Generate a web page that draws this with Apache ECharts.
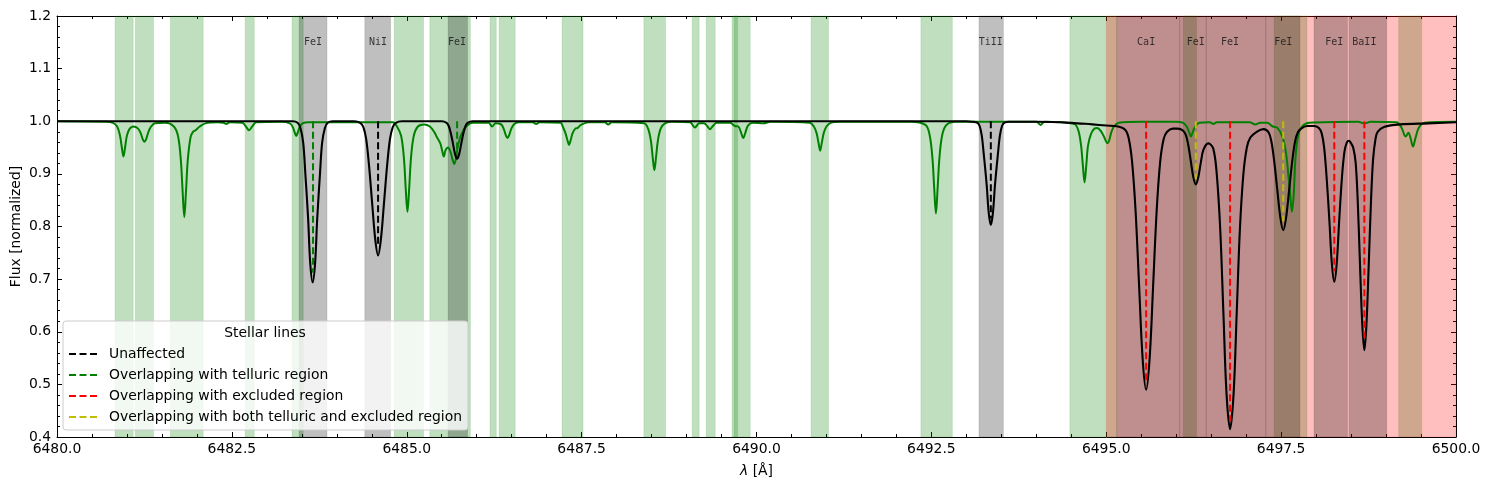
<!DOCTYPE html>
<html>
<head>
<meta charset="utf-8">
<script src="https://cdn.jsdelivr.net/npm/echarts@6.0.0/dist/echarts.min.js"></script>
<style>
html,body{margin:0;padding:0;background:#fff;}
#chart{width:1489px;height:490px;}
</style>
</head>
<body>
<div id="chart"></div>
<script>
// ---------------- DATA ----------------
// Stellar spectrum [wavelength Å, normalized flux]
const stellarSpectrum = [
[6480.0,1.0],[6483.3,1.0],
[6483.37,1.0],[6483.44,0.997],[6483.48,0.987],[6483.52,0.959],[6483.55,0.901],[6483.59,0.815],[6483.62,0.731],[6483.655,0.694],[6483.69,0.731],[6483.72,0.815],[6483.76,0.901],[6483.79,0.959],[6483.83,0.987],[6483.87,0.997],[6483.94,1.0],
[6484.25,1.0],[6484.335,0.997],[6484.38,0.989],[6484.42,0.966],[6484.46,0.917],[6484.505,0.845],[6484.55,0.775],[6484.59,0.745],[6484.63,0.775],[6484.675,0.845],[6484.72,0.917],[6484.76,0.966],[6484.80,0.989],[6484.845,0.997],[6484.93,1.0],
[6485.50,1.0],[6485.57,0.997],[6485.60,0.991],[6485.63,0.977],[6485.66,0.958],[6485.69,0.938],[6485.72,0.929],[6485.75,0.938],[6485.78,0.958],[6485.81,0.977],[6485.84,0.991],[6485.87,0.997],[6485.94,1.0],
[6493.0,1.0],[6493.09,0.999],[6493.16,0.997],[6493.19,0.991],[6493.22,0.973],[6493.25,0.936],[6493.29,0.880],[6493.32,0.826],[6493.35,0.803],[6493.38,0.826],[6493.41,0.880],[6493.45,0.936],[6493.48,0.973],[6493.51,0.991],[6493.54,0.997],[6493.61,0.999],
[6494.0,0.999],[6494.5,0.997],[6494.8,0.994],[6495.0,0.992],[6495.17,0.99],
[6495.27,0.984],[6495.32,0.968],[6495.37,0.922],[6495.42,0.828],[6495.47,0.687],[6495.52,0.549],[6495.57,0.49],[6495.62,0.549],[6495.67,0.687],[6495.72,0.828],[6495.77,0.922],[6495.82,0.966],[6495.87,0.980],[6495.95,0.986],[6496.02,0.986],
[6496.10,0.982],[6496.14,0.973],[6496.175,0.953],[6496.21,0.923],[6496.245,0.894],[6496.28,0.880],[6496.315,0.893],[6496.35,0.92],[6496.39,0.946],[6496.46,0.958],
[6496.53,0.948],[6496.58,0.899],[6496.63,0.793],[6496.675,0.635],[6496.72,0.481],[6496.77,0.415],[6496.82,0.481],[6496.865,0.635],[6496.91,0.793],[6496.96,0.899],[6497.01,0.950],[6497.06,0.969],[6497.15,0.98],[6497.25,0.985],
[6497.32,0.979],[6497.36,0.962],[6497.40,0.925],[6497.445,0.870],[6497.49,0.816],[6497.53,0.793],[6497.57,0.816],[6497.615,0.870],[6497.66,0.925],[6497.70,0.962],[6497.74,0.979],[6497.785,0.986],[6497.87,0.991],[6497.97,0.991],
[6498.04,0.987],[6498.08,0.977],[6498.115,0.950],[6498.15,0.894],[6498.19,0.811],[6498.225,0.730],[6498.26,0.695],[6498.295,0.730],[6498.33,0.811],[6498.37,0.894],[6498.405,0.942],[6498.44,0.960],[6498.47,0.963],
[6498.50,0.958],[6498.53,0.950],[6498.565,0.922],[6498.595,0.849],[6498.627,0.730],[6498.66,0.614],[6498.69,0.565],[6498.72,0.614],[6498.753,0.730],[6498.785,0.849],[6498.815,0.928],[6498.85,0.967],[6498.88,0.980],[6498.97,0.989],[6499.2,0.994],[6499.6,0.996],[6500.0,0.998]
];

// Telluric spectrum [wavelength Å, normalized flux]
const telluricSpectrum = [
[6480.0,1.0],[6480.7,0.999],[6480.80,0.997],[6480.86,0.990],[6480.90,0.973],[6480.925,0.952],[6480.95,0.933],[6480.975,0.952],[6481.0,0.973],[6481.04,0.986],[6481.09,0.990],[6481.16,0.986],[6481.20,0.976],[6481.225,0.966],[6481.25,0.961],[6481.275,0.966],[6481.30,0.977],[6481.34,0.989],[6481.40,0.996],[6481.55,0.997],
[6481.67,0.99],[6481.73,0.972],[6481.77,0.927],[6481.795,0.869],[6481.82,0.818],[6481.845,0.869],[6481.87,0.927],[6481.91,0.970],[6481.94,0.979],[6481.98,0.983],[6482.04,0.99],[6482.12,0.996],[6482.3,0.998],[6482.38,0.997],[6482.42,0.995],[6482.47,0.998],
[6482.65,0.997],[6482.70,0.99],[6482.745,0.983],[6482.79,0.99],[6482.85,0.998],[6483.2,0.999],[6483.33,0.996],[6483.37,0.989],[6483.395,0.98],[6483.42,0.972],[6483.445,0.98],[6483.47,0.989],[6483.51,0.996],[6483.6,0.998],[6484.8,0.998],
[6484.86,0.99],[6484.92,0.972],[6484.96,0.929],[6484.985,0.873],[6485.01,0.828],[6485.035,0.873],[6485.06,0.929],[6485.10,0.972],[6485.16,0.99],[6485.25,0.994],[6485.33,0.99],[6485.40,0.978],[6485.43,0.970],[6485.48,0.958],[6485.505,0.945],[6485.53,0.933],[6485.555,0.945],[6485.59,0.95],[6485.63,0.94],[6485.655,0.927],[6485.68,0.919],[6485.705,0.93],[6485.73,0.952],[6485.78,0.975],[6485.85,0.99],[6485.95,0.997],
[6486.17,0.997],[6486.22,0.99],[6486.27,0.996],[6486.35,0.994],[6486.39,0.984],[6486.415,0.974],[6486.44,0.968],[6486.465,0.974],[6486.49,0.984],[6486.53,0.994],[6486.6,0.998],[6486.8,0.998],[6486.85,0.995],[6486.9,0.998],
[6487.2,0.997],[6487.23,0.99],[6487.27,0.977],[6487.295,0.965],[6487.32,0.955],[6487.345,0.965],[6487.37,0.977],[6487.41,0.986],[6487.44,0.987],[6487.49,0.993],[6487.6,0.998],[6487.83,0.998],[6487.88,0.994],[6487.93,0.998],
[6488.39,0.996],[6488.45,0.986],[6488.49,0.963],[6488.515,0.933],[6488.54,0.907],[6488.565,0.933],[6488.59,0.963],[6488.63,0.986],[6488.69,0.996],[6488.8,0.999],
[6489.05,0.998],[6489.12,0.988],[6489.18,0.996],[6489.25,0.996],[6489.30,0.99],[6489.335,0.985],[6489.37,0.99],[6489.43,0.997],[6489.62,0.997],[6489.69,0.991],[6489.74,0.99],[6489.78,0.978],[6489.81,0.968],[6489.84,0.978],[6489.88,0.992],[6489.95,0.997],[6490.1,0.996],[6490.2,0.999],
[6490.76,0.997],[6490.82,0.99],[6490.86,0.977],[6490.885,0.96],[6490.91,0.944],[6490.935,0.96],[6490.96,0.977],[6491.0,0.99],[6491.06,0.997],[6491.2,0.999],
[6492.2,0.999],[6492.415,0.993],[6492.475,0.974],[6492.515,0.93],[6492.54,0.874],[6492.565,0.825],[6492.59,0.874],[6492.615,0.93],[6492.655,0.974],[6492.715,0.993],[6492.85,0.999],
[6494.0,0.999],[6494.06,0.993],[6494.12,0.999],[6494.54,0.995],[6494.60,0.983],[6494.64,0.954],[6494.665,0.917],[6494.69,0.884],[6494.715,0.917],[6494.74,0.954],[6494.78,0.975],[6494.83,0.986],[6494.87,0.987],[6494.93,0.98],[6494.97,0.97],[6495.0,0.961],[6495.02,0.958],[6495.045,0.965],[6495.07,0.978],[6495.11,0.99],[6495.18,0.997],[6495.5,0.999],
[6496.0,0.999],[6496.1,0.997],[6496.15,0.99],[6496.185,0.979],[6496.21,0.971],[6496.235,0.979],[6496.27,0.99],[6496.33,0.997],[6496.48,0.998],[6496.53,0.995],[6496.58,0.998],
[6497.05,0.998],[6497.13,0.994],[6497.2,0.997],[6497.3,0.997],[6497.38,0.99],[6497.45,0.987],[6497.52,0.97],[6497.57,0.94],[6497.605,0.895],[6497.63,0.86],[6497.654,0.828],[6497.68,0.86],[6497.705,0.93],[6497.745,0.974],[6497.8,0.99],[6497.9,0.997],
[6498.6,0.999],[6498.69,0.996],[6498.78,0.999],[6499.15,0.998],[6499.22,0.988],[6499.28,0.971],[6499.32,0.978],[6499.35,0.968],[6499.385,0.952],[6499.42,0.968],[6499.47,0.988],[6499.55,0.997],[6500.0,0.999]
];

// Shaded regions [start, end] in Å
const telluricRegions = [[6480.83,6481.09],[6481.12,6481.38],[6481.62,6482.09],[6482.69,6482.82],[6483.36,6483.52],[6484.82,6485.24],[6485.33,6485.91],[6486.19,6486.28],[6486.32,6486.55],[6487.22,6487.52],[6488.39,6488.70],[6489.08,6489.18],[6489.28,6489.41],[6489.65,6489.91],[6489.68,6489.73],[6490.78,6491.03],[6492.35,6492.80],[6494.48,6495.15],[6496.10,6496.29],[6497.40,6497.87],[6499.18,6499.51]];
const excludedRegions = [[6495.0,6500.0]];
const stellarRegions = [[6483.46,6483.86],[6484.40,6484.77],[6485.59,6485.87],[6493.18,6493.53],[6495.15,6496.05],[6496.05,6496.43],[6496.43,6497.28],[6497.28,6497.77],[6497.97,6498.45],[6498.47,6499.01]];

// Stellar lines
const lineNames   = ['FeI','NiI','FeI','TiII','CaI','FeI','FeI','FeI','FeI','BaII'];
const lineCenters = [6483.66,6484.59,6485.72,6493.35,6495.57,6496.28,6496.77,6497.53,6498.26,6498.69];
const lineDepths  = [0.712,0.762,0.94,0.815,0.505,0.89,0.43,0.81,0.715,0.585];
const lineStatus  = [1,0,1,0,2,3,2,3,2,2];
const statusNames = ['Unaffected','Overlapping with telluric region','Overlapping with excluded region','Overlapping with both telluric and excluded region'];
const labelLevel = 1.15;

// Axis ticks / titles
const xRange = [6480, 6500], xStep = 2.5;
const yRange = [0.4, 1.2], yStep = 0.1;
const yTitle = 'Flux [normalized]';

// ---------------- STYLE ----------------
const statusColors = ['#000000','#008000','#ff0000','#bfbf00'];
const FONT = 'DejaVu Sans';
const FS = 13.9;

const chart = echarts.init(document.getElementById('chart'), null, {renderer:'canvas'});

function regionArea(list){ return list.map(r => [{xAxis:r[0]},{xAxis:r[1]}]); }

const series = [];
series.push({type:'line', name:'_tell', data:[], silent:true, z:1,
  markArea:{silent:true, itemStyle:{color:'rgba(0,128,0,0.25)', borderColor:'rgba(0,128,0,0.12)', borderWidth:1}, data: regionArea(telluricRegions)}});
series.push({type:'line', name:'_excl', data:[], silent:true, z:2,
  markArea:{silent:true, itemStyle:{color:'rgba(255,0,0,0.25)', borderColor:'rgba(255,0,0,0.1)', borderWidth:1}, data: regionArea(excludedRegions)}});
series.push({type:'line', name:'_star', data:[], silent:true, z:3,
  markArea:{silent:true, itemStyle:{color:'rgba(0,0,0,0.25)', borderColor:'rgba(0,0,0,0.1)', borderWidth:1}, data: regionArea(stellarRegions)}});

series.push({type:'line', name:'_telluric', data: telluricSpectrum, showSymbol:false, symbol:'none', smooth:0.35, z:5,
  lineStyle:{color:'#008000', width:2}, silent:true});
series.push({type:'line', name:'_stellar', data: stellarSpectrum, showSymbol:false, symbol:'none', smooth:0.35, z:6,
  lineStyle:{color:'#000000', width:2.1}, silent:true});

statusNames.forEach((n,i)=>{
  series.push({type:'line', name:n, data:[], symbol:'none', showSymbol:false, z:7,
    lineStyle:{color:statusColors[i], width:2, type:[7,3.5]}, itemStyle:{color:statusColors[i]}});
});
lineCenters.forEach((c,i)=>{
  const s = lineStatus[i];
  series.push({type:'line', name:statusNames[s], data:[[c,1.0],[c,lineDepths[i]]], symbol:'none', z:8, silent:true,
    lineStyle:{color:statusColors[s], width:2, type:[7,3.5]}, itemStyle:{color:statusColors[s]}});
});
series.push({type:'scatter', name:'_labels', symbolSize:0, z:9, silent:true,
  data: lineCenters.map((c,i)=>({value:[c,labelLevel], name: lineNames[i]})),
  label:{show:true, position:'inside', formatter: p => p.name, fontFamily:'DejaVu Sans Mono', fontSize:10, color:'#111'}});

const axisCommon = {
  axisLine:{show:true, onZero:false, lineStyle:{color:'#000', width:1}},
  axisTick:{show:true, inside:true, length:5, lineStyle:{color:'#000', width:1}},
  minorTick:{show:true, splitNumber:5, length:3, lineStyle:{color:'#000', width:1}},
  splitLine:{show:false}, minorSplitLine:{show:false}
};

const option = {
  animation:false,
  backgroundColor:'#ffffff',
  grid:{left:57, right:33, top:16, bottom:53, containLabel:false, outerBoundsMode:'none'},
  xAxis:[
    Object.assign({type:'value', min:xRange[0], max:xRange[1], interval:xStep, position:'bottom',
      name:'{i|λ} [Å]', nameLocation:'middle', nameGap:27,
      nameTextStyle:{fontFamily:FONT, fontSize:FS, color:'#000', rich:{i:{fontStyle:'italic', fontFamily:FONT, fontSize:FS, color:'#000'}}},
      axisLabel:{show:true, margin:5, fontFamily:FONT, fontSize:FS, color:'#000', formatter:v=>v.toFixed(1), showMinLabel:true, showMaxLabel:true, hideOverlap:false}}, axisCommon),
    Object.assign({type:'value', min:xRange[0], max:xRange[1], interval:xStep, position:'top', axisLabel:{show:false}}, axisCommon)
  ],
  yAxis:[
    Object.assign({type:'value', min:yRange[0], max:yRange[1], interval:yStep, position:'left',
      axisLabel:{show:true, margin:6, fontFamily:FONT, fontSize:FS, color:'#000', formatter:v=>v.toFixed(1), showMinLabel:true, showMaxLabel:true, hideOverlap:false}}, axisCommon),
    Object.assign({type:'value', min:yRange[0], max:yRange[1], interval:yStep, position:'right', axisLabel:{show:false}}, axisCommon)
  ],
  legend:{
    show:true, data: statusNames, orient:'vertical', left:63, top:321,
    padding:[26,6,6,5], itemGap:7, itemWidth:30, itemHeight:14,
    itemStyle:{opacity:0},
    backgroundColor:'rgba(255,255,255,0.8)', borderColor:'#cccccc', borderWidth:1, borderRadius:3,
    textStyle:{fontFamily:FONT, fontSize:FS, color:'#000', padding:[0,0,0,5]},
    selectedMode:false, z:20
  },
  graphic:[
    {type:'text', z:30, style:{text:'Stellar lines', x:265, y:333, align:'center', verticalAlign:'middle', fontFamily:FONT, fontSize:FS, fill:'#000'}},
    {type:'text', z:30, x:16, y:226.5, rotation:Math.PI/2, style:{text:yTitle, x:0, y:0, align:'center', verticalAlign:'middle', fontFamily:FONT, fontSize:FS, fill:'#000'}}
  ],
  series: series
};
chart.setOption(option);
</script>
</body>
</html>
